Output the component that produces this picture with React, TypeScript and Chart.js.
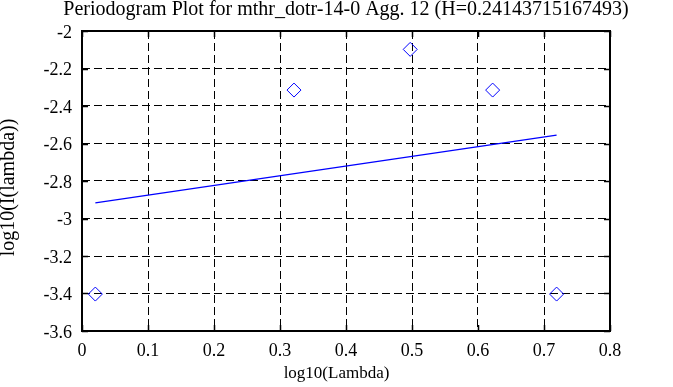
import React, { useEffect, useRef } from "react";
import { Chart, registerables } from "chart.js";

Chart.register(...registerables);

const titleText = "Periodogram Plot for mthr_dotr-14-0 Agg. 12 (H=0.24143715167493)";
const xLabel = "log10(Lambda)";
const yLabel = "log10(I(lambda))";

// periodogram points
const pointX = [0.0202, 0.3212, 0.4973, 0.6222, 0.7191];
const pointY = [-3.403, -2.315, -2.098, -2.315, -3.403];

// fitted line (endpoints)
const fitX = [0.0202, 0.7191];
const fitY = [-2.917, -2.555];

const xTicks = [0, 0.1, 0.2, 0.3, 0.4, 0.5, 0.6, 0.7, 0.8];
const yTicks = [-3.6, -3.4, -3.2, -3, -2.8, -2.6, -2.4, -2.2, -2];

const FONT = "'Liberation Serif', 'Times New Roman', serif";

const framePlugin = {
  id: "frame",
  afterDraw(chart: any) {
    const { ctx, chartArea, width } = chart;
    const { left, right, top, bottom } = chartArea;
    const xs = chart.scales.x;
    const ys = chart.scales.y;
    ctx.save();
    ctx.strokeStyle = "#000";
    ctx.lineWidth = 1.5;
    ctx.setLineDash([]);
    const tl = 6;
    ctx.beginPath();
    xTicks.forEach((v) => {
      const px = Math.round(xs.getPixelForValue(v)) + 0.5;
      ctx.moveTo(px, top);
      ctx.lineTo(px, top + tl);
      ctx.moveTo(px, bottom);
      ctx.lineTo(px, bottom - tl);
    });
    yTicks.forEach((v) => {
      const py = Math.round(ys.getPixelForValue(v)) + 0.5;
      ctx.moveTo(left, py);
      ctx.lineTo(left + tl, py);
      ctx.moveTo(right, py);
      ctx.lineTo(right - tl, py);
    });
    ctx.stroke();
    ctx.lineWidth = 2;
    ctx.strokeRect(left, top, right - left, bottom - top);
    ctx.fillStyle = "#000";
    ctx.textAlign = "center";
    ctx.textBaseline = "alphabetic";
    // title
    ctx.font = `20px ${FONT}`;
    ctx.fillText(titleText, (left + right) / 2, 15);
    // x axis label
    ctx.font = `17px ${FONT}`;
    ctx.fillText(xLabel, width / 2, 378);
    // y axis label
    ctx.font = `20px ${FONT}`;
    ctx.translate(14, 187.5);
    ctx.rotate(-Math.PI / 2);
    ctx.fillText(yLabel, 0, 0);
    ctx.restore();
  },
};

export default function App() {
  const ref = useRef<HTMLCanvasElement | null>(null);
  useEffect(() => {
    if (!ref.current) return;
    const chart = new Chart(ref.current, {
      type: "scatter",
      data: {
        datasets: [
          {
            type: "line",
            data: fitX.map((x, i) => ({ x, y: fitY[i] })),
            borderColor: "#0000ff",
            borderWidth: 1.3,
            pointRadius: 0,
            fill: false,
          },
          {
            type: "scatter",
            data: pointX.map((x, i) => ({ x, y: pointY[i] })),
            pointStyle: "rectRot",
            pointRadius: 7,
            pointHoverRadius: 7,
            borderColor: "#0000ff",
            borderWidth: 1,
            backgroundColor: "rgba(0,0,0,0)",
          },
        ],
      },
      options: {
        animation: false,
        responsive: false,
        events: [],
        layout: { padding: { top: 31, right: 63, left: 0, bottom: 0 } },
        plugins: { legend: { display: false }, title: { display: false }, tooltip: { enabled: false } },
        scales: {
          x: {
            type: "linear",
            min: 0,
            max: 0.8,
            afterFit: (s: any) => { s.height = 56; },
            afterBuildTicks: (s: any) => { s.ticks = xTicks.map((v) => ({ value: v })); },
            ticks: {
              color: "#000",
              font: { family: FONT, size: 18 },
              padding: 9,
              maxRotation: 0,
              callback: (v: any) => String(Math.round(Number(v) * 10) / 10),
            },
            grid: { color: "#000", lineWidth: 1, drawTicks: false },
            border: { display: false, dash: [8, 4] },
            title: { display: false },
          },
          y: {
            type: "linear",
            min: -3.6,
            max: -2,
            afterFit: (s: any) => { s.width = 82; },
            afterBuildTicks: (s: any) => { s.ticks = yTicks.map((v) => ({ value: v })); },
            ticks: {
              color: "#000",
              font: { family: FONT, size: 18 },
              padding: 10,
              labelOffset: 2,
              callback: (v: any) => String(Math.round(Number(v) * 10) / 10),
            },
            grid: { color: "#000", lineWidth: 1, drawTicks: false },
            border: { display: false, dash: [8, 4] },
            title: { display: false },
          },
        },
      },
      plugins: [framePlugin],
    } as any);
    return () => chart.destroy();
  }, []);
  return (
    <div style={{ position: "fixed", left: 0, top: 0, width: 673, height: 387, background: "#fff" }}>
      <canvas ref={ref} width={673} height={387} style={{ width: 673, height: 387 }} />
    </div>
  );
}
